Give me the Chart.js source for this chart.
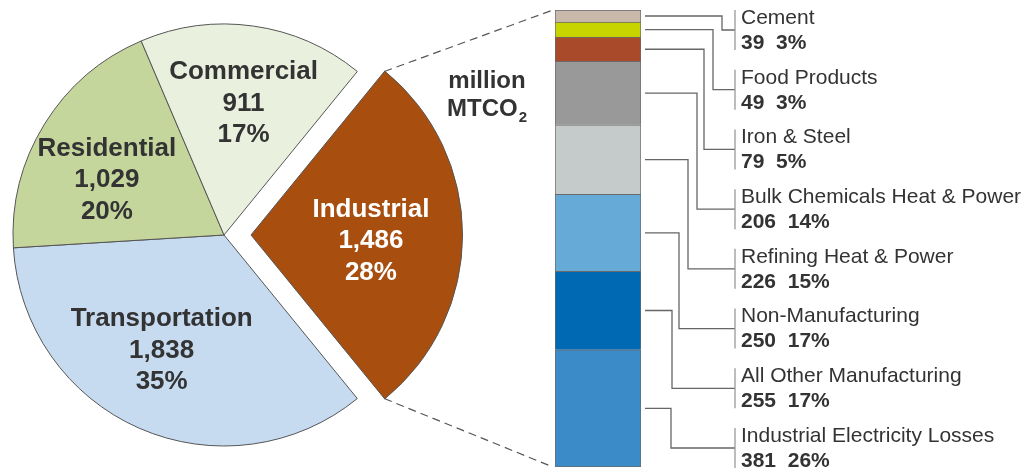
<!DOCTYPE html>
<html>
<head>
<meta charset="utf-8">
<title>CO2 emissions by sector</title>
<script src="https://cdn.jsdelivr.net/npm/chart.js@4"></script>
<style>
  body { margin: 0; background: #fff; }
  #wrap { position: relative; width: 1023px; height: 470px; }
  #wrap canvas { position: absolute; left: 0; top: 0; }
</style>
</head>
<body>
<div id="wrap">
  <canvas id="pie" width="1023" height="470"></canvas>
  <canvas id="bar" width="1023" height="470"></canvas>
</div>
<script>
// sectors, in drawing order (clockwise from the exploded slice)
const sectorLabels = ['Industrial', 'Transportation', 'Residential', 'Commercial'];
const sectorValues = [1486, 1838, 1029, 911];
const sectorColors = ['#a84f10', '#c6daf0', '#c5d69d', '#e9f0dd'];

// industrial breakdown, top to bottom of the bar
const industryLabels = ['Cement', 'Food Products', 'Iron & Steel', 'Bulk Chemicals Heat & Power',
  'Refining Heat & Power', 'Non-Manufacturing', 'All Other Manufacturing', 'Industrial Electricity Losses'];
const industryValues = [39, 49, 79, 206, 226, 250, 255, 381];
const industryColors = ['#c8b9aa', '#c8d400', '#a94b2b', '#999999', '#c5cbcb', '#66aad8', '#0069b4', '#3a8bc8'];

const unitLine1 = 'million';
const unitLine2 = 'MTCO';

const FONT = '"Liberation Sans", Arial, Helvetica, sans-serif';
const sectorTotal = sectorValues.reduce((a, b) => a + b, 0);
const industryTotal = industryValues.reduce((a, b) => a + b, 0);

// label nudges (px) on top of the default spot in each slice
const pieNudge = [[-13, 6], [-9, -6], [-4, 15], [1, 0]];
// x of the vertical jog in each leader line
const jogX = [722, 713, 704, 697, 688, 679, 672, 671];

const pieLabels = {
  id: 'pieLabels',
  afterDatasetsDraw(chart) {
    const ctx = chart.ctx;
    chart.getDatasetMeta(0).data.forEach((arc, i) => {
      const mid = (arc.startAngle + arc.endAngle) / 2;
      const shift = (arc.options.offset || 0) / 4;
      const r = arc.outerRadius * 0.63 + shift;
      const cx = arc.x + Math.cos(mid) * r + pieNudge[i][0];
      const cy = arc.y + Math.sin(mid) * r + pieNudge[i][1];
      const pct = Math.round(sectorValues[i] / sectorTotal * 100);
      const lines = [sectorLabels[i], sectorValues[i].toLocaleString('en-US'), pct + '%'];
      ctx.save();
      ctx.font = 'bold 26px ' + FONT;
      ctx.fillStyle = i === 0 ? '#ffffff' : '#333333';
      ctx.textAlign = 'center';
      ctx.textBaseline = 'middle';
      lines.forEach((t, k) => ctx.fillText(t, cx, cy + (k - 1) * 31.5));
      ctx.restore();
    });
  }
};

const pieChart = new Chart(document.getElementById('pie'), {
  type: 'pie',
  data: {
    labels: sectorLabels,
    datasets: [{
      data: sectorValues,
      backgroundColor: sectorColors,
      borderColor: '#555555',
      borderWidth: 1,
      offset: [108, 0, 0, 0],
      clip: false
    }]
  },
  options: {
    responsive: false,
    animation: false,
    radius: 211,
    rotation: 90 - (sectorValues[0] / sectorTotal * 360) / 2,
    layout: { padding: { left: 0, right: 575, top: 0, bottom: 0 } },
    plugins: { legend: { display: false }, tooltip: { enabled: false } }
  },
  plugins: [pieLabels]
});

const breakout = {
  id: 'breakout',
  afterDatasetsDraw(chart) {
    const ctx = chart.ctx;
    const n = industryLabels.length;
    const bars = [];
    for (let i = 0; i < n; i++) {
      // datasets were reversed, so the top segment is the last dataset
      bars.push(chart.getDatasetMeta(n - 1 - i).data[0]);
    }
    const left = bars[0].x - bars[0].width / 2;
    const right = bars[0].x + bars[0].width / 2;
    const top = bars[0].y;
    const bottom = bars[n - 1].base;

    ctx.save();
    // dashed connectors from the exploded slice
    const arc = pieChart.getDatasetMeta(0).data[0];
    const mid = (arc.startAngle + arc.endAngle) / 2;
    const shift = arc.options.offset / 4;
    const ax = arc.x + Math.cos(mid) * shift;
    const ay = arc.y + Math.sin(mid) * shift;
    const R = arc.outerRadius;
    ctx.strokeStyle = '#555';
    ctx.lineWidth = 1.2;
    ctx.setLineDash([8, 5]);
    ctx.beginPath();
    ctx.moveTo(ax + Math.cos(arc.startAngle) * R, ay + Math.sin(arc.startAngle) * R);
    ctx.lineTo(left - 2, top);
    ctx.moveTo(ax + Math.cos(arc.endAngle) * R, ay + Math.sin(arc.endAngle) * R);
    ctx.lineTo(left - 2, bottom);
    ctx.stroke();
    ctx.setLineDash([]);

    // unit label
    ctx.fillStyle = '#333';
    ctx.font = 'bold 24px ' + FONT;
    ctx.textAlign = 'center';
    ctx.textBaseline = 'alphabetic';
    ctx.fillText(unitLine1, 487, 88);
    const w1 = ctx.measureText(unitLine2).width;
    ctx.font = 'bold 15px ' + FONT;
    const w2 = ctx.measureText('2').width;
    const sx = 487 - (w1 + w2 + 1) / 2;
    ctx.textAlign = 'left';
    ctx.font = 'bold 24px ' + FONT;
    ctx.fillText(unitLine2, sx, 116);
    ctx.font = 'bold 15px ' + FONT;
    ctx.fillText('2', sx + w1 + 1, 122);

    // leader lines and labels
    const labelX = 735;
    const firstY = 30;
    const step = (448 - 30) / (n - 1);
    for (let i = 0; i < n; i++) {
      const b = bars[i];
      const my = (b.y + b.base) / 2;
      const ly = firstY + i * step;
      ctx.strokeStyle = '#666';
      ctx.lineWidth = 1.3;
      ctx.beginPath();
      ctx.moveTo(right + 4, my);
      ctx.lineTo(jogX[i], my);
      ctx.lineTo(jogX[i], ly);
      ctx.lineTo(labelX, ly);
      ctx.stroke();
      ctx.strokeStyle = '#999';
      ctx.lineWidth = 1.3;
      ctx.beginPath();
      ctx.moveTo(labelX, ly - 20);
      ctx.lineTo(labelX, ly + 20);
      ctx.stroke();

      const pct = Math.round(industryValues[i] / industryTotal * 100);
      ctx.fillStyle = '#333';
      ctx.textAlign = 'left';
      ctx.textBaseline = 'middle';
      ctx.font = '21px ' + FONT;
      ctx.fillText(industryLabels[i], labelX + 6, ly - 12);
      ctx.font = 'bold 21px ' + FONT;
      ctx.fillText(industryValues[i] + '  ' + pct + '%', labelX + 6, ly + 13);
    }
    ctx.restore();
  }
};

const barDatasets = industryLabels.map((name, i) => ({
  label: name,
  data: [industryValues[i]],
  backgroundColor: industryColors[i],
  borderColor: '#6a6a6a',
  borderWidth: i === industryLabels.length - 1 ? 1 : { top: 1, left: 1, right: 1, bottom: 0 },
  borderSkipped: false,
  barPercentage: 1,
  categoryPercentage: 1
})).reverse();

new Chart(document.getElementById('bar'), {
  type: 'bar',
  data: { labels: ['Industrial'], datasets: barDatasets },
  options: {
    responsive: false,
    animation: false,
    layout: { padding: { left: 555, right: 382, top: 10, bottom: 3 } },
    scales: {
      x: { display: false, stacked: true },
      y: { display: false, stacked: true, min: 0, max: industryTotal }
    },
    plugins: { legend: { display: false }, tooltip: { enabled: false } }
  },
  plugins: [breakout]
});
</script>
</body>
</html>
